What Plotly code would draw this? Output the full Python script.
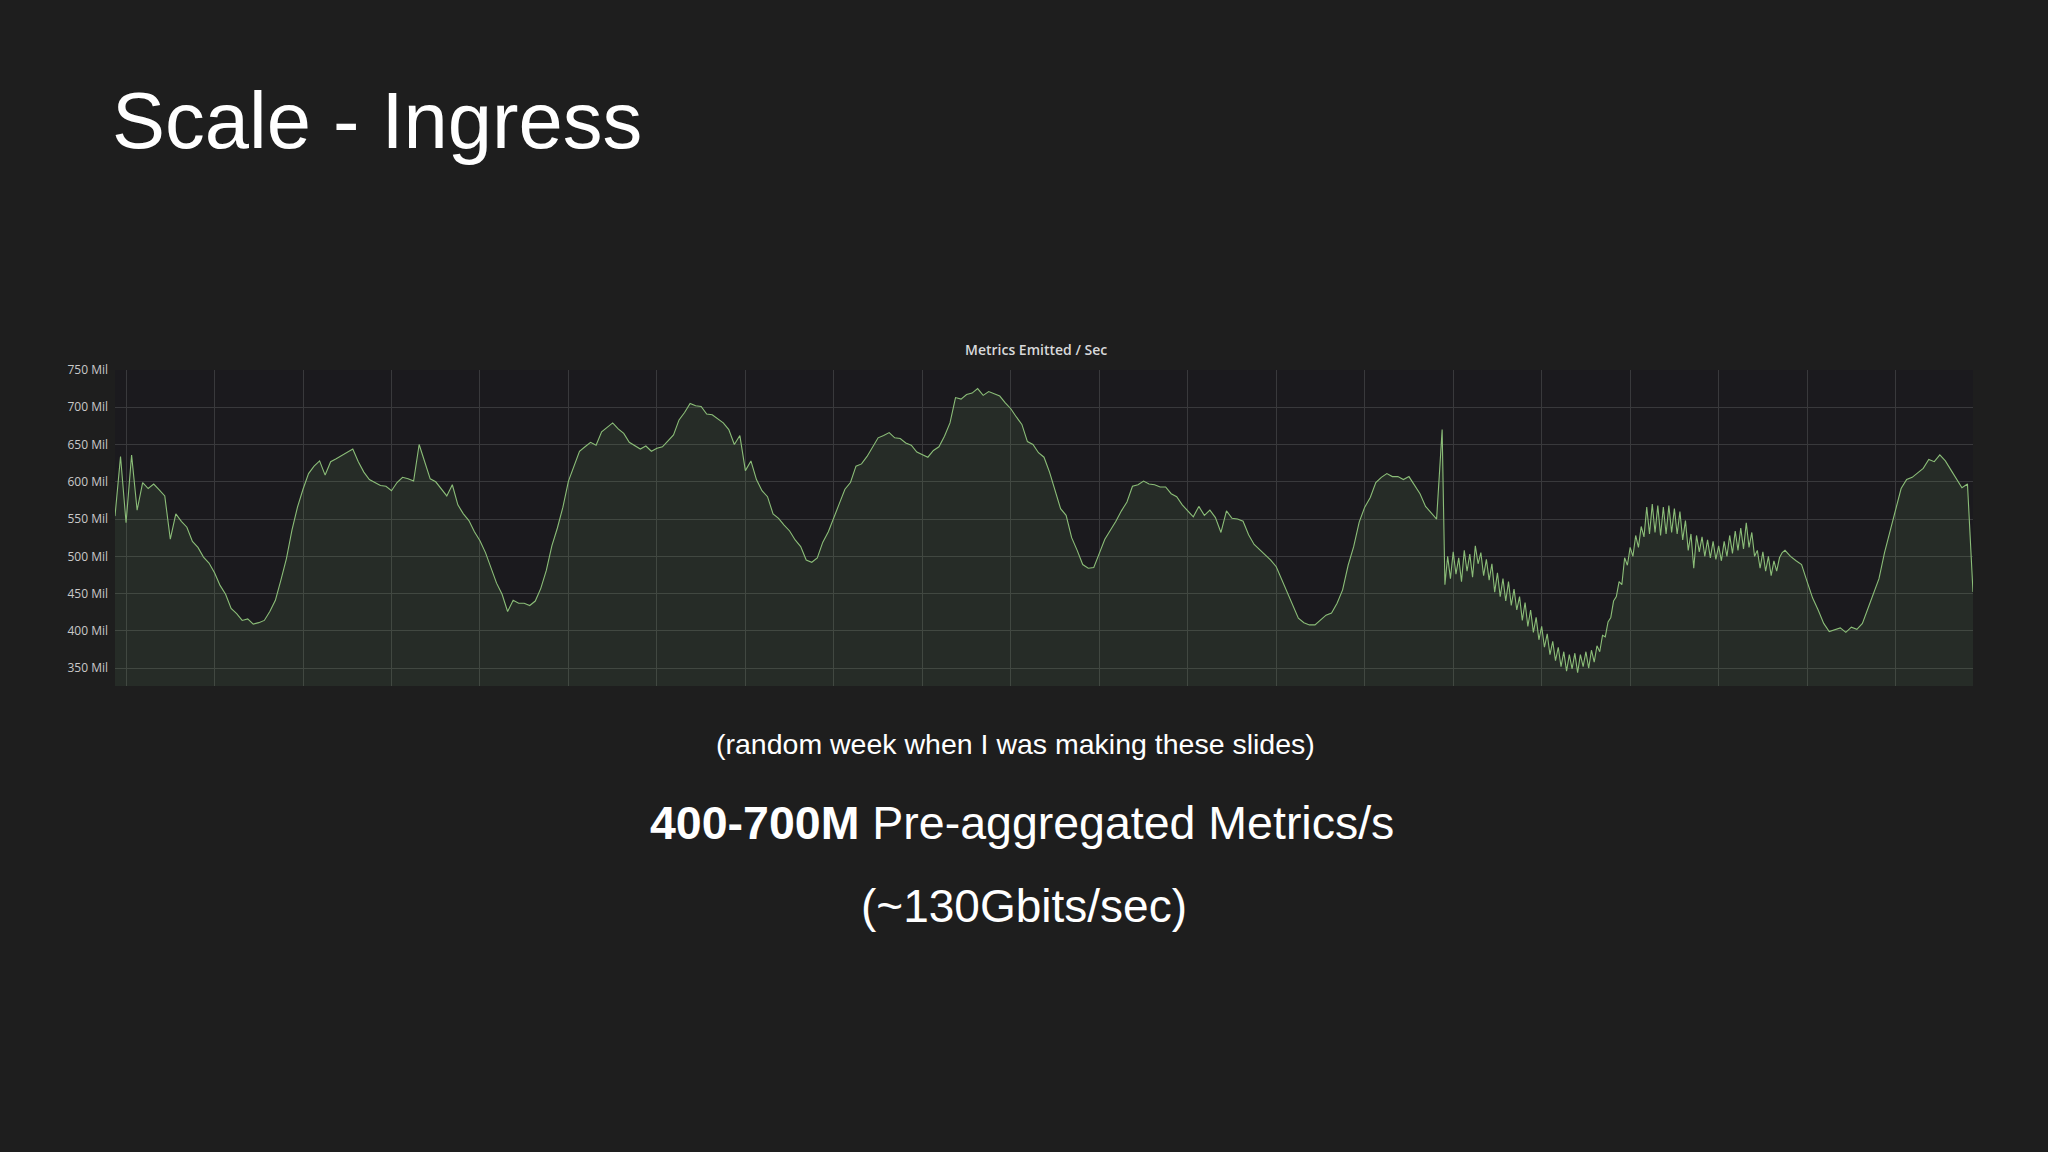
import pandas as pd
import plotly.graph_objects as go

# ---------------- data ----------------
START = pd.Timestamp("2017-03-06 23:00")   # first sample (1 h before first vertical gridline)

# part 1: every 30 min, hour -1.0 .. 119.0
METRICS_A = [
    554, 634,
    545, 636, 562, 599, 591, 597, 589, 581, 523, 557, 547, 539, 520, 512, 499, 491,
    478, 461, 449, 430, 423, 414, 416, 409, 411, 414, 426, 441, 468, 497, 535, 566,
    590, 611, 621, 628, 609, 627, 631, 635, 639, 644, 627, 613, 603, 599, 595, 594,
    588, 599, 606, 604, 601, 650, 628, 604, 600, 591, 581, 596, 569, 557, 548, 533,
    521, 505, 484, 464, 449, 426, 441, 437, 437, 434, 440, 457, 481, 514, 538, 566,
    601, 621, 641, 647, 653, 649, 667, 673, 679, 671, 665, 653, 648, 644, 648, 641,
    645, 647, 655, 663, 683, 693, 705, 702, 701, 691, 690, 685, 679, 670, 650, 662,
    615, 628, 603, 588, 580, 557, 551, 542, 534, 522, 513, 495, 492, 498, 519, 533,
    553, 571, 590, 599, 621, 624, 634, 646, 659, 662, 666, 659, 658, 652, 649, 640,
    636, 633, 642, 647, 661, 679, 713, 711, 717, 719, 725, 716, 721, 718, 715, 706,
    698, 687, 677, 654, 650, 639, 633, 613, 589, 564, 555, 525, 508, 489, 484, 485,
    504, 523, 535, 547, 561, 573, 594, 596, 601, 597, 596, 593, 593, 584, 580, 569,
    561, 553, 567, 555, 562, 552, 532, 561, 551, 550, 547, 529, 516, 509, 501, 495,
    486, 469, 451, 436, 417, 411, 408, 408, 414, 421, 424, 437, 455, 488, 513, 546,
    566, 579, 599, 606, 611, 607, 607, 603, 607, 595, 584, 567, 558, 550, 670,
]
# part 2: every 15 min (noisy stretch), hour 119.25 .. 150.0
METRICS_B = [
    462, 500, 470, 506, 476, 498, 466, 508,
    480, 503, 472, 514, 490, 505, 474, 496,
    468, 490, 452, 478, 446, 470, 440, 466,
    434, 456, 428, 446, 414, 438, 406, 428,
    398, 418, 388, 406, 378, 396, 368, 386,
    360, 378, 352, 372, 346, 368, 349, 370,
    344, 368, 352, 372, 350, 374, 358, 380,
    372, 394, 392, 412, 418, 440, 446, 466,
    462, 498, 488, 512, 500, 528, 512, 540,
    526, 566, 530, 570, 532, 568, 528, 566,
    530, 568, 532, 564, 530, 560, 522, 548,
    508, 530, 484, 528, 506, 526, 500, 522,
    498, 520, 496, 514, 494, 520, 500, 528,
    504, 534, 508, 538, 510, 545, 512, 532,
    500, 508, 484, 506, 480, 500, 474, 494,
    480, 498, 505, 508,
]
# part 3: every 30 min, hour 150.5 .. 167.0
METRICS_C = [
    500, 494, 489,
    466, 444, 428, 410, 399, 401, 404, 398, 405, 402, 410, 430, 451, 470, 505, 534,
    561, 591, 603, 606, 612, 618, 630, 627, 636, 628, 616, 604, 592, 597, 452,
]

Y_TICK_VALUES = [350, 400, 450, 500, 550, 600, 650, 700, 750]
Y_TICK_TEXT = ["350 Mil", "400 Mil", "450 Mil", "500 Mil", "550 Mil",
               "600 Mil", "650 Mil", "700 Mil", "750 Mil"]
Y_RANGE = [326, 750]
X_RANGE = ["2017-03-06 23:00", "2017-03-13 23:00"]
GRID_START = "2017-03-07 00:00"

SLIDE_TITLE = "Scale - Ingress"
CHART_TITLE = "Metrics Emitted / Sec"
NOTE = "(random week when I was making these slides)"
HEADLINE_BOLD = "400-700M"
HEADLINE_REST = " Pre-aggregated Metrics/s"
SUBLINE = "(~130Gbits/sec)"

times = (
    list(pd.date_range(START, periods=len(METRICS_A), freq="30min"))
    + list(pd.date_range(START + pd.Timedelta(hours=120.25),
                         periods=len(METRICS_B), freq="15min"))
    + list(pd.date_range(START + pd.Timedelta(hours=151.5),
                         periods=len(METRICS_C), freq="30min"))
)
values = METRICS_A + METRICS_B + METRICS_C

# ---------------- layout geometry (pixels) ----------------
W, H = 2048, 1152
PL, PR, PT, PB = 115, 1973, 370, 686


def px(x):
    return (x - PL) / (PR - PL)


def py(y):
    return (PB - y) / (PB - PT)


fig = go.Figure()
fig.add_trace(go.Scatter(
    x=times, y=values, mode="lines",
    line=dict(color="#8bbd78", width=1.1),
    fill="tozeroy", fillcolor="rgba(126,178,109,0.12)",
    hoverinfo="skip", showlegend=False,
))

GRID = "#39393c"
fig.update_layout(
    width=W, height=H,
    margin=dict(l=PL, r=W - PR, t=PT, b=H - PB, pad=0),
    paper_bgcolor="#1e1e1e",
    plot_bgcolor="#1b1a1e",
    xaxis=dict(
        type="date", range=X_RANGE, showticklabels=False,
        tick0=GRID_START, dtick=8 * 3600 * 1000,
        showgrid=True, gridcolor=GRID, gridwidth=1,
        zeroline=False, showline=False, ticks="",
    ),
    yaxis=dict(
        range=Y_RANGE, tickvals=Y_TICK_VALUES, ticktext=Y_TICK_TEXT,
        showgrid=True, gridcolor=GRID, gridwidth=1,
        zeroline=False, showline=False, ticks="",
        ticklabelstandoff=6,
        tickfont=dict(family="Open Sans", size=12, color="#c9c9c9"),
    ),
)

ann_font = "Liberation Sans, Arial, sans-serif"
fig.add_annotation(
    text=SLIDE_TITLE, xref="paper", yref="paper",
    x=px(110), y=py(120), xanchor="left", yanchor="middle",
    showarrow=False, font=dict(family=ann_font, size=79.5, color="#ffffff"),
)
fig.add_annotation(
    text=CHART_TITLE, xref="paper", yref="paper",
    x=px(1036), y=py(349), xanchor="center", yanchor="middle",
    showarrow=False,
    font=dict(family="Open Sans", size=14, color="#d8d9da", weight=600),
)
fig.add_annotation(
    text=NOTE, xref="paper", yref="paper",
    x=px(1015), y=py(744), xanchor="center", yanchor="middle",
    showarrow=False, font=dict(family=ann_font, size=28.5, color="#ffffff"),
)
fig.add_annotation(
    text="<b>" + HEADLINE_BOLD + "</b>" + HEADLINE_REST,
    xref="paper", yref="paper",
    x=px(1022), y=py(823), xanchor="center", yanchor="middle",
    showarrow=False, font=dict(family=ann_font, size=46.5, color="#ffffff"),
)
fig.add_annotation(
    text=SUBLINE, xref="paper", yref="paper",
    x=px(1024), y=py(906), xanchor="center", yanchor="middle",
    showarrow=False, font=dict(family=ann_font, size=46, color="#ffffff"),
)

fig.write_html(
    "out.html",
    config={"displayModeBar": False},
    post_script=(
        "document.body.style.margin='0';"
        "document.body.style.background='#1e1e1e';"
        "document.documentElement.style.overflow='hidden';"
    ),
)
